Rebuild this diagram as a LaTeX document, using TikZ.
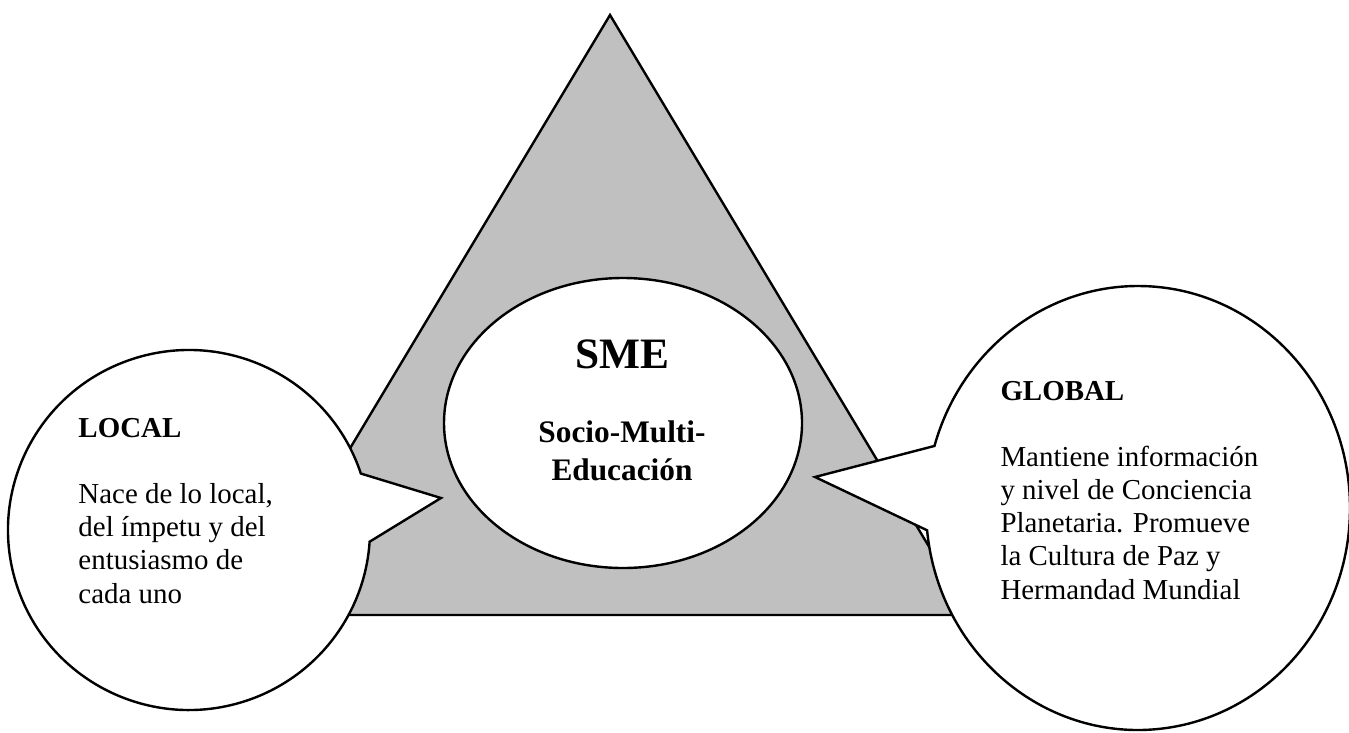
\documentclass[tikz,border=0pt]{standalone}
\usepackage{fontspec}
\setmainfont{Liberation Serif}
\usetikzlibrary{shapes.geometric}
\usetikzlibrary{shapes.callouts}
\definecolor{trigray}{RGB}{192,192,192}
\newlength{\pxu}
\setlength{\pxu}{0.415pt}
\tikzset{x=0.415pt, y=-0.415pt,
    outline/.style={
        draw,
        line width=1pt},
    core/.style={
        outline,
        ellipse,
        fill=white,
        inner sep=0pt},
    bubble/.style={
        outline,
        ellipse callout,
        fill=white,
        inner sep=0pt,
        callout pointer arc=22},
    body/.style={
        align=left,
        inner sep=0pt,
        font=\fontsize{12pt}{13.7pt}\selectfont}}

\begin{document}
\begin{tikzpicture}
        \useasboundingbox (0,0) rectangle (1349,732);
        \coordinate (apex) at (610,15);
        \coordinate (baseL) at (250,615);
        \coordinate (baseR) at (970,615);
        \draw[outline, fill=trigray] (apex) -- (baseR) -- (baseL) -- cycle;

        \node[core, minimum width=358*\pxu, minimum height=290*\pxu] (sme) at (623,423) {};
        \node[bubble, minimum width=362*\pxu, minimum height=360*\pxu,
            callout absolute pointer={(441,498)}] (local) at (189,530) {};
        \node[bubble, minimum width=424*\pxu, minimum height=444*\pxu,
            callout absolute pointer={(815,477)}] (global) at (1138,508) {};

        \node[anchor=base, inner sep=0pt, font=\fontsize{18pt}{20pt}\selectfont\bfseries]
            (smetitle) at (622,368) {SME};
        \node[anchor=base, align=center, inner sep=0pt, font=\fontsize{13pt}{15.4pt}\selectfont\bfseries]
            (smename) at (622,480) {Socio-Multi-\\Educación};

        % anchored at the baseline of the last line
        \node[body, anchor=base west] (localtxt) at (78,603)
            {\textbf{LOCAL}\\[13.7pt]Nace de lo local,\\del ímpetu y del\\entusiasmo de\\cada uno};
        \node[body, anchor=base west] (globaltxt) at (1000,599)
            {\textbf{GLOBAL}\\[13.7pt]Mantiene información\\y nivel de Conciencia\\Planetaria. Promueve\\la Cultura de Paz y\\Hermandad Mundial};
    \end{tikzpicture}
\end{document}
